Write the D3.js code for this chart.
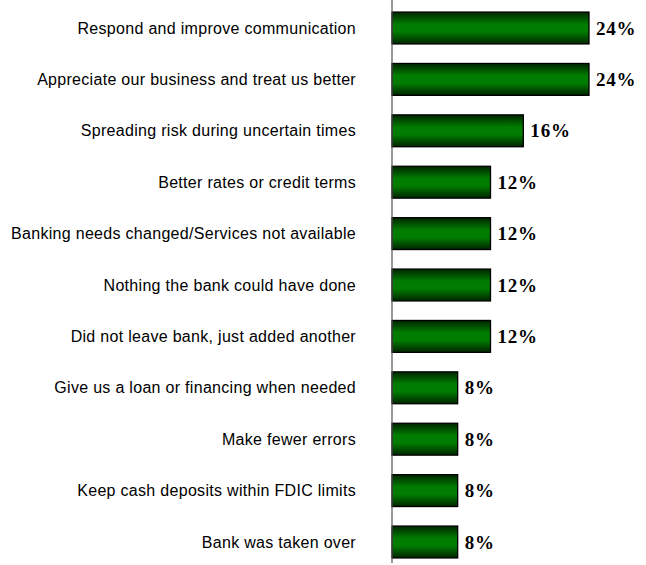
<!DOCTYPE html>
<meta charset="utf-8">
<style>
body { margin: 0; background: #fff; }
text.cat {
  font-family: "Liberation Sans", Arial, sans-serif;
  font-size: 16px;
  letter-spacing: 0.3px;
  fill: #000;
}
text.val {
  font-family: "Liberation Serif", "Times New Roman", serif;
  font-size: 19px;
  letter-spacing: 0.8px;
  font-weight: bold;
  fill: #000;
}
</style>
<body>
<div id="chart"></div>
<script src="https://d3js.org/d3.v7.min.js"></script>
<script>
// Reasons / what the bank could have done, percent of respondents
var categories = [
  "Respond and improve communication",
  "Appreciate our business and treat us better",
  "Spreading risk during uncertain times",
  "Better rates or credit terms",
  "Banking needs changed/Services not available",
  "Nothing the bank could have done",
  "Did not leave bank, just added another",
  "Give us a loan or financing when needed",
  "Make fewer errors",
  "Keep cash deposits within FDIC limits",
  "Bank was taken over"
];
var values = [24, 24, 16, 12, 12, 12, 12, 8, 8, 8, 8];

var width = 646, height = 565;
var axisX = 392;

var svg = d3.select("#chart").append("svg")
    .attr("width", width)
    .attr("height", height);

// vertical gradient, dark edges and bright green middle
var grad = svg.append("defs").append("linearGradient")
    .attr("id", "barGrad")
    .attr("x1", 0).attr("y1", 0).attr("x2", 0).attr("y2", 1);
grad.append("stop").attr("offset", "0%").attr("stop-color", "#002500");
grad.append("stop").attr("offset", "38%").attr("stop-color", "#007c00");
grad.append("stop").attr("offset", "62%").attr("stop-color", "#007c00");
grad.append("stop").attr("offset", "100%").attr("stop-color", "#002500");

var x = d3.scaleLinear()
    .domain([0, 24])
    .range([axisX, 589]);

var y = d3.scaleBand()
    .domain(categories)
    .range([2.3, 567.7])
    .paddingInner(0.38)
    .paddingOuter(0.19);

// bars
svg.selectAll("rect.bar")
    .data(values)
    .enter().append("rect")
    .attr("class", "bar")
    .attr("x", x(0))
    .attr("y", function (d, i) { return y(categories[i]); })
    .attr("width", function (d) { return x(d) - x(0); })
    .attr("height", y.bandwidth())
    .attr("fill", "url(#barGrad)")
    .attr("stroke", "#000")
    .attr("stroke-width", 1.3);

// vertical axis line
svg.append("line")
    .attr("x1", axisX).attr("x2", axisX)
    .attr("y1", 0).attr("y2", 563)
    .attr("stroke", "#555")
    .attr("stroke-width", 1.2);

// category labels
svg.selectAll("text.cat")
    .data(categories)
    .enter().append("text")
    .attr("class", "cat")
    .attr("x", 356)
    .attr("y", function (d) { return y(d) + y.bandwidth() / 2; })
    .attr("dy", "0.35em")
    .attr("text-anchor", "end")
    .text(function (d) { return d; });

// value labels
svg.selectAll("text.val")
    .data(values)
    .enter().append("text")
    .attr("class", "val")
    .attr("x", function (d) { return x(d) + 7; })
    .attr("y", function (d, i) { return y(categories[i]) + y.bandwidth() / 2; })
    .attr("dy", "0.35em")
    .text(function (d) { return d + "%"; });
</script>
